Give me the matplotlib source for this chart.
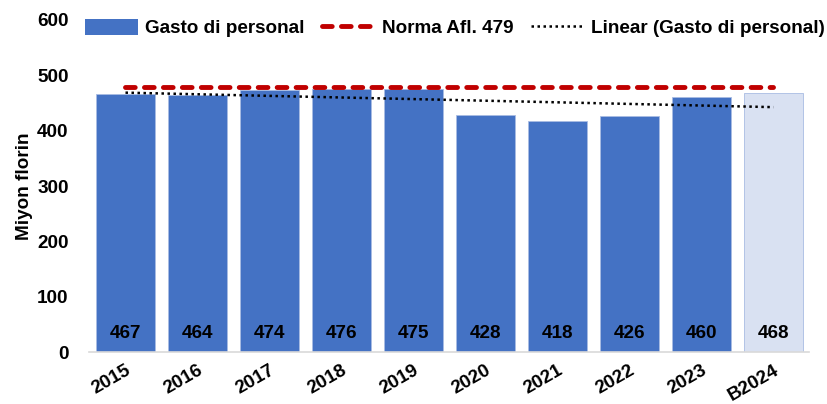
import numpy as np
import matplotlib.pyplot as plt
from matplotlib.patches import Patch
from matplotlib.lines import Line2D

plt.rcParams['font.family'] = ['Liberation Sans', 'DejaVu Sans']
plt.rcParams['font.weight'] = 'bold'

years = ['2015', '2016', '2017', '2018', '2019', '2020', '2021', '2022', '2023', 'B2024']
gasto = [467, 464, 474, 476, 475, 428, 418, 426, 460, 468]
norma = [479] * len(years)

blue = '#4472C4'
light = '#D9E1F2'
red = '#C00000'
fs = 13.6

x = np.arange(len(years))
colors = [blue] * (len(years) - 1) + [light]

fig = plt.figure(figsize=(8.27, 4.04), dpi=100)
ax = fig.add_axes([0.1082, 0.1287, 0.8706, 0.8218])

ax.bar(x, gasto, width=0.82, color=colors, edgecolor='#A9BCE3', linewidth=0.6, zorder=2)
for xi, v in zip(x, gasto):
    ax.text(xi, 34, str(v), ha='center', va='center', fontsize=fs, fontweight='bold', zorder=4)

red_ls = (0, (2.0, 1.9))
ax.plot(x, norma, color=red, linestyle=red_ls, linewidth=3.5, dash_capstyle='round', zorder=3)

# Excel-style linear trendline
coef = np.polyfit(x, gasto, 1)
ax.plot(x, np.polyval(coef, x), color='black', linestyle=(0, (1, 1.4)), linewidth=1.8, zorder=3)

ax.set_xlim(-0.5, len(years) - 0.5)
ax.set_ylim(0, 600)
ax.set_yticks(np.arange(0, 601, 100))
ax.set_xticks(x)
ax.set_xticklabels(years, rotation=30, ha='right', rotation_mode='anchor')
ax.tick_params(axis='both', length=0, labelsize=fs)
ax.tick_params(axis='y', pad=15)
ax.tick_params(axis='x', pad=7)
for s in ['top', 'right', 'left']:
    ax.spines[s].set_visible(False)
ax.spines['bottom'].set_color('#D9D9D9')
ax.spines['bottom'].set_linewidth(1.2)
ax.set_ylabel('Miyon florin', fontsize=fs, fontweight='bold', labelpad=3)

handles = [
    Patch(facecolor=blue),
    Line2D([], [], color=red, linestyle=red_ls, linewidth=3.5, dash_capstyle='round'),
    Line2D([], [], color='black', linestyle=(0, (1, 1.4)), linewidth=1.8),
]
labels = ['Gasto di personal', 'Norma Afl. 479', 'Linear (Gasto di personal)']
fig.legend(handles, labels, loc='center', bbox_to_anchor=(455 / 827, 1 - 28 / 404),
           ncol=3, frameon=False, fontsize=fs, handlelength=2.8, handleheight=0.9,
           columnspacing=0.9, handletextpad=0.4, borderaxespad=0)

plt.savefig('out.png', dpi=100)
